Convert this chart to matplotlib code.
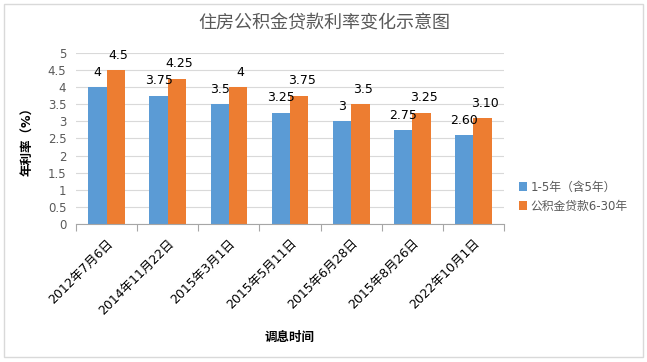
import matplotlib.pyplot as plt
from matplotlib.patches import Rectangle
import numpy as np

plt.rcParams['font.family'] = ['DejaVu Sans', 'Noto Sans CJK SC']

# === Data ===
dates = ["2012年7月6日", "2014年11月22日", "2015年3月1日", "2015年5月11日",
         "2015年6月28日", "2015年8月26日", "2022年10月1日"]
short_rate = [4.0, 3.75, 3.5, 3.25, 3.0, 2.75, 2.60]
long_rate = [4.5, 4.25, 4.0, 3.75, 3.5, 3.25, 3.10]
short_labels = ["4", "3.75", "3.5", "3.25", "3", "2.75", "2.60"]
long_labels = ["4.5", "4.25", "4", "3.75", "3.5", "3.25", "3.10"]
series_names = ["1-5年（含5年）", "公积金贷款6-30年"]

blue = "#5B9BD5"
orange = "#ED7D31"
gray_txt = "#595959"

fig = plt.figure(figsize=(6.47, 3.62), dpi=100)
fig.patch.set_facecolor("white")
fig.patches.append(Rectangle((0.006, 0.014), 0.988, 0.975, transform=fig.transFigure,
                             fill=False, edgecolor="#D9D9D9", linewidth=1))

ax = fig.add_axes([0.1175, 0.381, 0.6615, 0.473])

x = np.arange(len(dates))
w = 0.30
b1 = ax.bar(x - w / 2, short_rate, w, color=blue, label=series_names[0])
b2 = ax.bar(x + w / 2, long_rate, w, color=orange, label=series_names[1])

# === Data labels ===
for rect, lab in zip(b1, short_labels):
    ax.annotate(lab, (rect.get_x() + rect.get_width() / 2, rect.get_height()),
                xytext=(0, 6), textcoords="offset points", ha="center", va="bottom",
                fontsize=9, color="black")
for rect, lab in zip(b2, long_labels):
    ax.annotate(lab, (rect.get_x() + rect.get_width() / 2 + 0.04, rect.get_height()),
                xytext=(0, 6), textcoords="offset points", ha="center", va="bottom",
                fontsize=9, color="black")

ax.set_xlim(-0.5, len(dates) - 0.5)
ax.set_ylim(0, 5)
ax.set_yticks(np.arange(0, 5.01, 0.5))
ax.set_yticklabels(["0", "0.5", "1", "1.5", "2", "2.5", "3", "3.5", "4", "4.5", "5"])
ax.tick_params(axis="y", length=0, labelsize=8.5, labelcolor=gray_txt, pad=7)
ax.grid(True, axis="y", color="#D9D9D9", linewidth=0.8)
ax.set_axisbelow(True)

ax.set_xticks(x)
ax.set_xticklabels(dates, rotation=45, ha="right", rotation_mode="anchor", fontsize=9)
ax.tick_params(axis="x", length=0, pad=9)
ax.set_xticks(np.arange(-0.5, len(dates), 1), minor=True)
ax.tick_params(axis="x", which="minor", length=5, color="#A6A6A6", width=0.8)

for s in ["top", "right", "left"]:
    ax.spines[s].set_visible(False)
ax.spines["bottom"].set_color("#A6A6A6")
ax.spines["bottom"].set_linewidth(0.8)

ax.set_xlabel("调息时间", fontsize=9, fontweight="bold", labelpad=10)
ax.set_ylabel("年利率（%）", fontsize=9, fontweight="bold", labelpad=10)

fig.text(0.502, 0.935, "住房公积金贷款利率变化示意图", ha="center", va="center",
         fontsize=13, color=gray_txt)

ax.legend(loc="center left", bbox_to_anchor=(1.01, 0.16), frameon=False, fontsize=8.5,
          handlelength=0.7, handleheight=0.7, handletextpad=0.3, labelspacing=0.5,
          labelcolor=gray_txt)

plt.savefig("out.png", dpi=100)
plt.close()
